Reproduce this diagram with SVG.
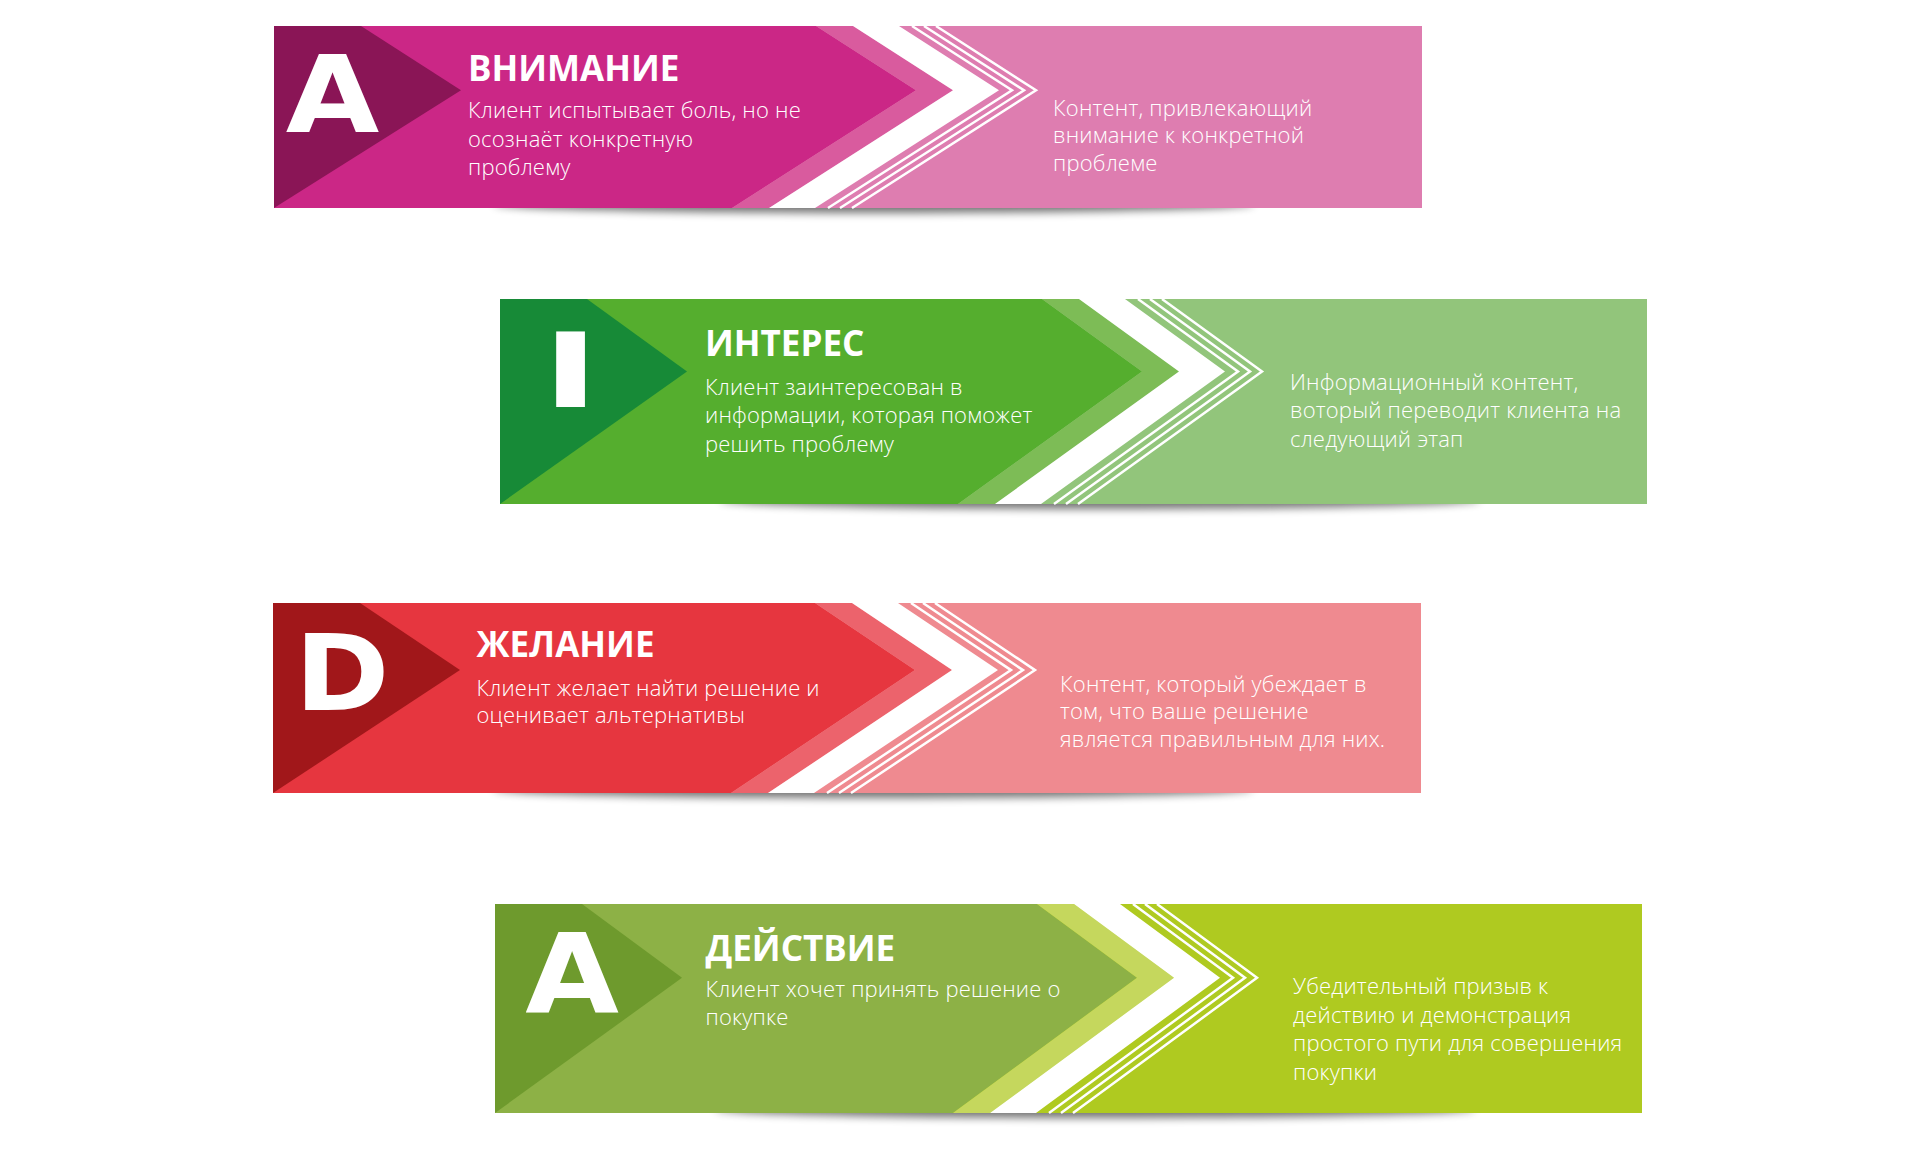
<svg xmlns="http://www.w3.org/2000/svg" width="1920" height="1168" viewBox="0 0 1920 1168">
<defs>
<filter id="blur" x="-20%" y="-200%" width="140%" height="500%"><feGaussianBlur stdDeviation="4"/></filter>
</defs>
<style>
.shadow{fill:#000;opacity:.55;filter:url(#blur)}
.white{fill:#fff}
.ln{fill:none;stroke:#fff;stroke-width:2.5}
.big{font-family:"DejaVu Sans",sans-serif;font-weight:bold;fill:#fff;text-anchor:middle}
.title{font-family:"Open Sans","Noto Sans",sans-serif;font-weight:bold;font-size:35px;fill:#fff}
.body{font-family:"Open Sans","Noto Sans",sans-serif;font-weight:300;font-size:22px;letter-spacing:0.2px;fill:#fff}
</style>
<rect width="1920" height="1168" fill="#fff"/>

<g id="attention" transform="translate(274,26)">
<ellipse class="shadow" cx="600" cy="178" rx="380" ry="9"/>
<rect width="1148" height="182" fill="#DE7DB0"/>
<polygon points="0,0 542,0 642,64.3 458,182 0,182" fill="#CB2786"/>
<polygon points="542,0 579,0 679,64.3 495,182 458,182 642,64.3" fill="#D95B9E"/>
<polygon class="white" points="579,0 625,0 725,64.3 541,182 495,182 679,64.3"/>
<polyline class="ln" points="638,0 738,64.3 554,182"/>
<polyline class="ln" points="650,0 750,64.3 566,182"/>
<polyline class="ln" points="662,0 762,64.3 578,182"/>
<polygon points="0,0 87,0 187,64.3 0,182" fill="#8A1556"/>
<text class="big" font-size="107" transform="translate(58.5,106) scale(1.13,1)">A</text>
<text class="title" x="194" y="55">ВНИМАНИЕ</text>
<text class="body" x="194" y="92">Клиент испытывает боль, но не</text>
<text class="body" x="194" y="121">осознаёт конкретную</text>
<text class="body" x="194" y="149">проблему</text>
<text class="body" x="779" y="90">Контент, привлекающий</text>
<text class="body" x="779" y="117">внимание к конкретной</text>
<text class="body" x="779" y="145">проблеме</text>
</g>

<g id="interest" transform="translate(500,299)">
<ellipse class="shadow" cx="600" cy="201" rx="380" ry="9"/>
<rect width="1147" height="205" fill="#92C57B"/>
<polygon points="0,0 542,0 642,72.4 458,205 0,205" fill="#55AE2E"/>
<polygon points="542,0 579,0 679,72.4 495,205 458,205 642,72.4" fill="#7DBC56"/>
<polygon class="white" points="579,0 625,0 725,72.4 541,205 495,205 679,72.4"/>
<polyline class="ln" points="638,0 738,72.4 554,205"/>
<polyline class="ln" points="650,0 750,72.4 566,205"/>
<polyline class="ln" points="662,0 762,72.4 578,205"/>
<polygon points="0,0 87,0 187,72.4 0,205" fill="#178A37"/>
<text class="big" font-size="103" transform="translate(70.5,108) scale(1.48,1)">I</text>
<text class="title" x="205" y="57">ИНТЕРЕС</text>
<text class="body" x="205" y="96">Клиент заинтересован в</text>
<text class="body" x="205" y="124">информации, которая поможет</text>
<text class="body" x="205" y="153">решить проблему</text>
<text class="body" x="790" y="91">Информационный контент,</text>
<text class="body" x="790" y="119">воторый переводит клиента на</text>
<text class="body" x="790" y="148">следующий этап</text>
</g>

<g id="desire" transform="translate(273,603)">
<ellipse class="shadow" cx="600" cy="186" rx="380" ry="9"/>
<rect width="1148" height="190" fill="#EF8A90"/>
<polygon points="0,0 542,0 642,67.1 458,190 0,190" fill="#E6363F"/>
<polygon points="542,0 579,0 679,67.1 495,190 458,190 642,67.1" fill="#EC636C"/>
<polygon class="white" points="579,0 625,0 725,67.1 541,190 495,190 679,67.1"/>
<polyline class="ln" points="638,0 738,67.1 554,190"/>
<polyline class="ln" points="650,0 750,67.1 566,190"/>
<polyline class="ln" points="662,0 762,67.1 578,190"/>
<polygon points="0,0 87,0 187,67.1 0,190" fill="#A1171A"/>
<text class="big" font-size="105.6" transform="translate(69,107) scale(1.08,1)">D</text>
<text class="title" x="203.5" y="54">ЖЕЛАНИЕ</text>
<text class="body" x="203.5" y="93">Клиент желает найти решение и</text>
<text class="body" x="203.5" y="120">оценивает альтернативы</text>
<text class="body" x="787" y="89">Контент, который убеждает в</text>
<text class="body" x="787" y="116">том, что ваше решение</text>
<text class="body" x="787" y="144">является правильным для них.</text>
</g>

<g id="action" transform="translate(495,904)">
<ellipse class="shadow" cx="600" cy="205" rx="380" ry="9"/>
<rect width="1147" height="209" fill="#AFCA20"/>
<polygon points="0,0 542,0 642,73.8 458,209 0,209" fill="#8DB146"/>
<polygon points="542,0 579,0 679,73.8 495,209 458,209 642,73.8" fill="#C5D75D"/>
<polygon class="white" points="579,0 625,0 725,73.8 541,209 495,209 679,73.8"/>
<polyline class="ln" points="638,0 738,73.8 554,209"/>
<polyline class="ln" points="650,0 750,73.8 566,209"/>
<polyline class="ln" points="662,0 762,73.8 578,209"/>
<polygon points="0,0 87,0 187,73.8 0,209" fill="#6E9A2D"/>
<text class="big" font-size="110" transform="translate(77,109) scale(1.1,1)">A</text>
<text class="title" x="210.5" y="57">ДЕЙСТВИЕ</text>
<text class="body" x="210.5" y="93">Клиент хочет принять решение о</text>
<text class="body" x="210.5" y="121">покупке</text>
<text class="body" x="798" y="90">Убедительный призыв к</text>
<text class="body" x="798" y="118.5">действию и демонстрация</text>
<text class="body" x="798" y="147">простого пути для совершения</text>
<text class="body" x="798" y="175.5">покупки</text>
</g>
</svg>
